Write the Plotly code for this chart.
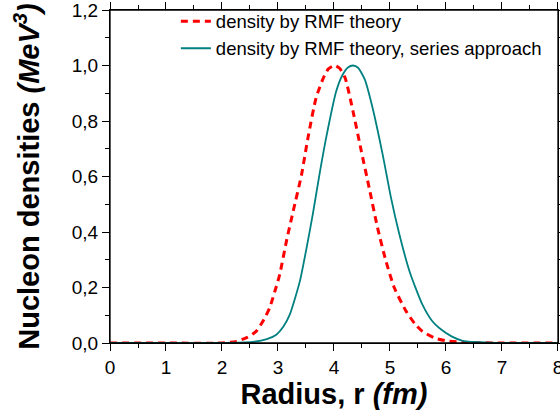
import plotly.graph_objects as go

# Red dashed: density by RMF theory
r_rmf = [0, 1.0, 2.0, 2.26, 2.45, 2.61, 2.75, 2.85, 2.95, 3.03, 3.15, 3.27, 3.42, 3.535, 3.68, 3.8, 3.9, 4.01,
         4.1, 4.2, 4.34, 4.49, 4.63, 4.78, 4.93, 5.08, 5.29, 5.45, 5.58, 5.8, 6.0, 6.36, 7.0, 8.0]
rho_rmf = [0, 0, 0.0, 0.006, 0.020, 0.042, 0.085, 0.126, 0.190, 0.246, 0.366, 0.474, 0.606, 0.739, 0.883, 0.950, 0.988, 1.0,
           0.990, 0.955, 0.835, 0.690, 0.558, 0.414, 0.294, 0.198, 0.114, 0.068, 0.042, 0.018, 0.008, 0.002, 0, 0]

# Teal solid: density by RMF theory, series approach
r_ser = [0, 1.0, 2.0, 2.55, 2.8, 2.97, 3.1, 3.21, 3.39, 3.51, 3.62, 3.74, 3.86, 4.04, 4.15, 4.25, 4.34,
         4.43, 4.55, 4.69, 4.87, 5.02, 5.17, 5.35, 5.58, 5.75, 5.88, 6.1, 6.30, 6.8, 7.0, 8.0]
rho_ser = [0, 0, 0, 0.004, 0.014, 0.030, 0.060, 0.102, 0.222, 0.342, 0.462, 0.606, 0.739, 0.907, 0.965, 0.993, 1.0,
           0.992, 0.950, 0.847, 0.679, 0.522, 0.390, 0.258, 0.138, 0.080, 0.054, 0.024, 0.008, 0.001, 0, 0]

x_ticks = [0, 1, 2, 3, 4, 5, 6, 7, 8]
y_ticks = [0.0, 0.2, 0.4, 0.6, 0.8, 1.0, 1.2]
y_ticktext = ["0,0", "0,2", "0,4", "0,6", "0,8", "1,0", "1,2"]

FONT = "Arial, Liberation Sans, sans-serif"

fig = go.Figure()
fig.add_trace(go.Scatter(
    x=r_rmf, y=rho_rmf, mode="lines", name="density by RMF theory",
    line=dict(color="#ff0000", width=3, dash="7px,5px", shape="spline", smoothing=0.6)))
fig.add_trace(go.Scatter(
    x=r_ser, y=rho_ser, mode="lines", name="density by RMF theory, series approach",
    line=dict(color="#008080", width=1.8, shape="spline", smoothing=0.6)))

axis_common = dict(showgrid=False, zeroline=False, showline=True, linecolor="black",
                   linewidth=1.3, tickcolor="black", tickwidth=1.2, automargin=False,
                   mirror="allticks", ticklabeloverflow="allow")

fig.update_layout(
    width=560, height=417,
    margin=dict(l=110, r=1.5, t=10, b=74),
    paper_bgcolor="white", plot_bgcolor="white",
    font=dict(family=FONT, color="black"),
    showlegend=True,
    legend=dict(x=(176 - 110) / 449, y=1.022, xanchor="left", yanchor="top",
                bgcolor="rgba(0,0,0,0)", font=dict(size=18.5, family=FONT),
                tracegroupgap=0, itemwidth=30),
    xaxis=dict(range=[0, 8.001], tickvals=x_ticks, ticks="outside", ticklen=7,
               tickfont=dict(size=19), minor=dict(dtick=0.5, ticks="outside", ticklen=4,
                                                  tickcolor="black", tickwidth=1.2),
               title=dict(text="<b>Radius, r <i>(fm)</i></b>", font=dict(size=29), standoff=6),
               **axis_common),
    yaxis=dict(range=[0, 1.2001], tickvals=y_ticks, ticktext=y_ticktext, ticks="outside",
               ticklen=7, tickfont=dict(size=19),
               minor=dict(dtick=0.1, ticks="outside", ticklen=4, tickcolor="black", tickwidth=1.2),
               title=dict(text="<b>Nucleon densities <i>(MeV<sup>3</sup>)</i></b>",
                          font=dict(size=29), standoff=23),
               **axis_common),
    shapes=[dict(type="rect", xref="paper", yref="paper", x0=0, y0=0, x1=1, y1=1,
                 line=dict(color="black", width=1.3), fillcolor="rgba(0,0,0,0)", layer="above")],
)

fig.write_html("out.html", config={"displayModeBar": False},
               post_script="document.body.style.margin='0';document.body.style.overflow='hidden';")
